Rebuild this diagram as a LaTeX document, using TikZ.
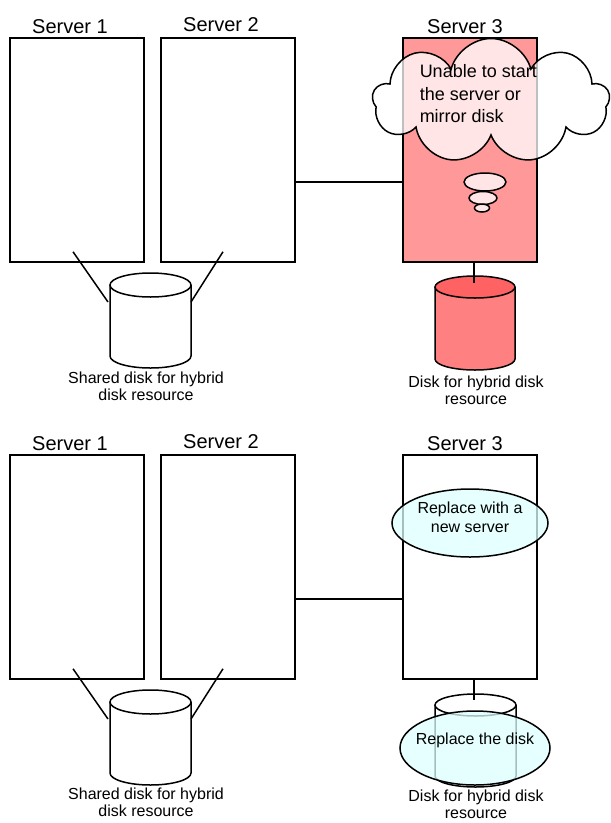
\documentclass[tikz,border=0pt]{standalone}
\usepackage{fontspec}
\setmainfont{Liberation Sans}
\usetikzlibrary{positioning, shapes.geometric, shapes.symbols}
\definecolor{srvPink}{HTML}{FF9999}
\definecolor{diskRed}{HTML}{FF8080}
\definecolor{diskTop}{HTML}{FF6262}
\definecolor{noteCyan}{HTML}{DDFFFF}

\begin{document}
\begin{tikzpicture}[x=1pt, y=-1pt, line width=1.5pt,
    server/.style={rectangle, draw, minimum width=134pt, minimum height=224pt, inner sep=0pt},
    srvlabel/.style={anchor=base, inner sep=0pt, font=\fontsize{20}{24}\selectfont},
    disklabel/.style={anchor=north, align=center, inner sep=0pt, font=\fontsize{16}{17}\selectfont},
    bubble/.style={ellipse, draw, fill=white, fill opacity=0.75, inner sep=0pt},
    note/.style={ellipse, draw, fill=noteCyan, fill opacity=0.75, inner sep=0pt},
    notetext/.style={align=center, inner sep=0pt, font=\fontsize{16}{19}\selectfont},
  ]
    \useasboundingbox (0,0) rectangle (611,823);

    % --- before: server 3 has failed ---
    \node[server] (s1) at (77,150) {};
    \node[server] (s2) at (228,150) {};
    \node[server, fill=srvPink] (s3) at (470,150) {};
    \node[srvlabel] (l1) at (70,33) {Server 1};
    \node[srvlabel] (l2) at (221,31) {Server 2};
    \node[srvlabel] (l3) at (465,33) {Server 3};
    \draw ([yshift=-32pt]s2.east) -- ([yshift=-32pt]s3.west);

    % shared disk
    \draw[fill=white] (110,285) -- (110,356)
      arc[start angle=180, end angle=360, x radius=40.5pt, y radius=12pt] -- (191,285);
    \draw[fill=white] (150.5,285) ellipse[x radius=40.5pt, y radius=12pt];
    \coordinate (sdl) at (108,302);
    \coordinate (sdr) at (191,302);
    \draw ([xshift=-4pt, yshift=11pt]s1.south) -- (sdl);
    \draw ([xshift=-5pt, yshift=11pt]s2.south) -- (sdr);
    \node[disklabel] (dl1) at (146,371) {Shared disk for hybrid\\disk resource};

    % hybrid disk of server 3
    \draw[fill=diskRed] (435,287) -- (435,359)
      arc[start angle=180, end angle=360, x radius=40pt, y radius=11pt] -- (515,287);
    \draw[fill=diskTop] (475,287) ellipse[x radius=40pt, y radius=11pt];
    \coordinate (hd) at (474,283);
    \draw ([xshift=4pt]s3.south) -- (hd);
    \node[disklabel] (dl2) at (476,375) {Disk for hybrid disk\\resource};

    % thought cloud
    \node[cloud, cloud puffs=9, cloud ignores aspect, draw, fill=white, fill opacity=0.75,
      minimum width=237pt, minimum height=125pt] (cl) at (491,101) {};
    \node[anchor=north west, align=left, inner sep=0pt, font=\fontsize{18}{22.5}\selectfont]
      (cltxt) at (419,64) {Unable to start\\the server or\\mirror disk};
    \node[bubble, minimum width=42pt, minimum height=18pt] (b1) at (485,182) {};
    \node[bubble, minimum width=28pt, minimum height=13pt] (b2) at (483,198) {};
    \node[bubble, minimum width=15pt, minimum height=8pt] (b3) at (482,208) {};

    % --- after: replace server and disk ---
    \begin{scope}[shift={(0,417)}]
      \node[server] (t1) at (77,150) {};
      \node[server] (t2) at (228,150) {};
      \node[server] (t3) at (470,150) {};
      \node[srvlabel] (m1) at (70,33) {Server 1};
      \node[srvlabel] (m2) at (221,31) {Server 2};
      \node[srvlabel] (m3) at (465,33) {Server 3};
      \draw ([yshift=-32pt]t2.east) -- ([yshift=-32pt]t3.west);

      \draw[fill=white] (110,285) -- (110,356)
        arc[start angle=180, end angle=360, x radius=40.5pt, y radius=12pt] -- (191,285);
      \draw[fill=white] (150.5,285) ellipse[x radius=40.5pt, y radius=12pt];
      \coordinate (tdl) at (108,302);
      \coordinate (tdr) at (191,302);
      \draw ([xshift=-4pt, yshift=11pt]t1.south) -- (tdl);
      \draw ([xshift=-5pt, yshift=11pt]t2.south) -- (tdr);
      \node[disklabel] (dl3) at (146,370) {Shared disk for hybrid\\disk resource};

      \draw[fill=white] (435,288) -- (435,359)
        arc[start angle=180, end angle=360, x radius=40.5pt, y radius=11pt] -- (516,288);
      \draw[fill=white] (475.5,288) ellipse[x radius=40.5pt, y radius=11pt];
      \coordinate (nd) at (474,283);
      \draw ([xshift=4pt]t3.south) -- (nd);
      \node[disklabel] (dl4) at (476,372) {Disk for hybrid disk\\resource};

      \node[note, minimum width=156pt, minimum height=68pt] (n1) at (470,106) {};
      \node[notetext, yshift=6pt] (n1txt) at (n1) {Replace with a\\new server};
      \node[note, minimum width=150pt, minimum height=74pt] (n2) at (475,331) {};
      \node[notetext, yshift=8pt] (n2txt) at (n2) {Replace the disk};
    \end{scope}
  \end{tikzpicture}
\end{document}
